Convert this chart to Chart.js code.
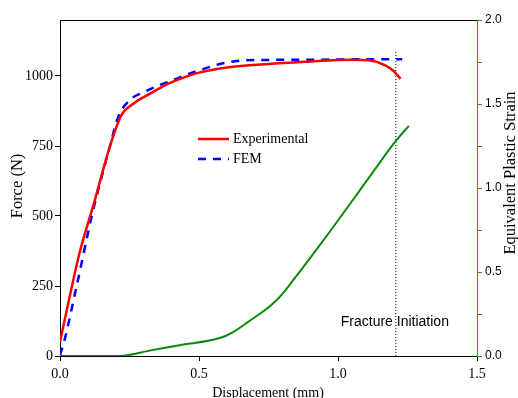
<!DOCTYPE html>
<html>
<head>
<meta charset="utf-8">
<script src="https://cdn.jsdelivr.net/npm/chart.js@4"></script>
<style>
  html, body { margin: 0; padding: 0; background: #fff; }
  #wrap { width: 518px; height: 398px; }
</style>
</head>
<body>
<div id="wrap"><canvas id="chart" width="518" height="398"></canvas></div>
<script>
// Force-displacement curves (N vs mm)
const expDisp  = [0, 0.03, 0.07, 0.125, 0.143, 0.179, 0.221, 0.264, 0.324, 0.384, 0.432, 0.50, 0.60, 0.75, 0.90, 1.00, 1.05, 1.11, 1.17, 1.20, 1.225];
const expForce = [50, 190, 367, 556, 621, 747, 860, 901, 937, 970, 990, 1012, 1030, 1043, 1052, 1057, 1058, 1056, 1038, 1018, 990];

const femDisp  = [0, 0.016, 0.059, 0.119, 0.179, 0.209, 0.25, 0.30, 0.35, 0.40, 0.50, 0.60, 0.70, 0.90, 1.10, 1.231];
const femForce = [3, 56, 246, 520, 747, 853, 913, 942, 964, 983, 1020, 1048, 1057, 1058, 1060, 1060];

// Equivalent plastic strain (right axis)
const strainDisp = [0, 0.215, 0.33, 0.43, 0.58, 0.63, 0.674, 0.758, 0.80, 0.843, 0.921, 0.975, 1.054, 1.13, 1.208, 1.255];
const strainVals = [0, 0, 0.035, 0.064, 0.11, 0.15, 0.20, 0.30, 0.37, 0.46, 0.63, 0.75, 0.93, 1.105, 1.28, 1.37];

// Fracture marker
const fractureDisp = 1.208;
const fractureTop = 1092;

const xTicks = [0, 0.5, 1.0, 1.5];
const forceTicks = [0, 250, 500, 750, 1000];

const toPoints = (xs, ys) => xs.map((x, i) => ({ x: x, y: ys[i] }));

const SERIF = '"Liberation Serif", "Times New Roman", serif';
const SANS = '"Liberation Sans", Arial, sans-serif';

const extras = {
  id: 'extras',
  afterDraw(chart) {
    const ctx = chart.ctx;
    const a = chart.chartArea;
    const xs = chart.scales.x;
    ctx.save();

    // top frame line
    ctx.strokeStyle = '#000';
    ctx.lineWidth = 1;
    ctx.beginPath();
    ctx.moveTo(a.left, a.top + 0.5);
    ctx.lineTo(a.right, a.top + 0.5);
    ctx.stroke();

    // legend
    const lx = 198, ly = 139;
    ctx.lineWidth = 2.5;
    ctx.strokeStyle = '#ff0000';
    ctx.beginPath(); ctx.moveTo(lx, ly); ctx.lineTo(lx + 31, ly); ctx.stroke();
    ctx.strokeStyle = '#0000ff';
    ctx.setLineDash([8, 7]);
    ctx.beginPath(); ctx.moveTo(lx, ly + 20); ctx.lineTo(lx + 31, ly + 20); ctx.stroke();
    ctx.setLineDash([]);
    ctx.fillStyle = '#000';
    ctx.font = '14px ' + SERIF;
    ctx.textBaseline = 'middle';
    ctx.textAlign = 'left';
    ctx.fillText('Experimental', lx + 35, ly);
    ctx.fillText('FEM', lx + 35, ly + 20);

    // fracture label
    ctx.font = '14px ' + SANS;
    ctx.fillText('Fracture Initiation', xs.getPixelForValue(1.01), 322);

    // axis titles
    ctx.font = '14px ' + SERIF;
    ctx.textAlign = 'center';
    ctx.fillText('Displacement (mm)', 268, 393);

    ctx.font = '16.5px ' + SERIF;
    ctx.save();
    ctx.translate(18, 186);
    ctx.rotate(-Math.PI / 2);
    ctx.fillText('Force (N)', 0, 0);
    ctx.restore();

    ctx.save();
    ctx.translate(511, 173);
    ctx.rotate(-Math.PI / 2);
    ctx.fillText('Equivalent Plastic Strain', 0, 0);
    ctx.restore();

    ctx.restore();
  }
};

new Chart(document.getElementById('chart'), {
  type: 'line',
  data: {
    datasets: [
      {
        label: 'Experimental',
        data: toPoints(expDisp, expForce),
        borderColor: '#ff0000',
        borderWidth: 2.5,
        pointRadius: 0,
        cubicInterpolationMode: 'monotone',
        yAxisID: 'y'
      },
      {
        label: 'FEM',
        data: toPoints(femDisp, femForce),
        borderColor: '#0000ff',
        borderWidth: 2.5,
        borderDash: [8, 7],
        pointRadius: 0,
        cubicInterpolationMode: 'monotone',
        yAxisID: 'y'
      },
      {
        label: 'Equivalent Plastic Strain',
        data: toPoints(strainDisp, strainVals),
        borderColor: '#0a8a0a',
        borderWidth: 2,
        pointRadius: 0,
        cubicInterpolationMode: 'monotone',
        yAxisID: 'y2'
      },
      {
        label: 'Fracture',
        data: [{ x: fractureDisp, y: 0 }, { x: fractureDisp, y: fractureTop }],
        borderColor: '#000',
        borderWidth: 1,
        borderDash: [1, 2],
        pointRadius: 0,
        yAxisID: 'y'
      }
    ]
  },
  options: {
    responsive: false,
    animation: false,
    layout: { padding: { top: 20, left: 0, right: 0, bottom: 0 } },
    plugins: {
      legend: { display: false },
      tooltip: { enabled: false }
    },
    scales: {
      x: {
        type: 'linear',
        min: 0,
        max: 1.5,
        afterFit: (s) => { s.height = 42; },
        afterBuildTicks: (s) => { s.ticks = xTicks.map(v => ({ value: v })); },
        border: { display: true, color: '#000', width: 1 },
        grid: { drawOnChartArea: false, drawTicks: true, tickLength: 5, color: '#000' },
        ticks: {
          color: '#000',
          font: { family: SERIF, size: 14 },
          padding: 5,
          callback: (v) => v.toFixed(1)
        }
      },
      y: {
        type: 'linear',
        position: 'left',
        min: 0,
        max: 1200,
        afterFit: (s) => { s.width = 60; },
        afterBuildTicks: (s) => { s.ticks = forceTicks.map(v => ({ value: v })); },
        border: { display: true, color: '#000', width: 1 },
        grid: { drawOnChartArea: false, drawTicks: true, tickLength: 5, color: '#000' },
        ticks: {
          color: '#000',
          font: { family: SERIF, size: 14 },
          padding: 2,
          callback: (v) => String(v)
        }
      },
      y2: {
        type: 'linear',
        position: 'right',
        min: 0,
        max: 2.0,
        afterFit: (s) => { s.width = 41; },
        border: { display: true, color: '#22a022', width: 1 },
        grid: { drawOnChartArea: false, drawTicks: true, tickLength: 5, color: '#22a022' },
        ticks: {
          stepSize: 0.25,
          color: '#000',
          font: { family: SANS, size: 12 },
          padding: 3,
          callback: (v) => (Math.abs(v * 2 - Math.round(v * 2)) < 1e-6 ? v.toFixed(1) : '')
        }
      }
    }
  },
  plugins: [extras]
});
</script>
</body>
</html>
